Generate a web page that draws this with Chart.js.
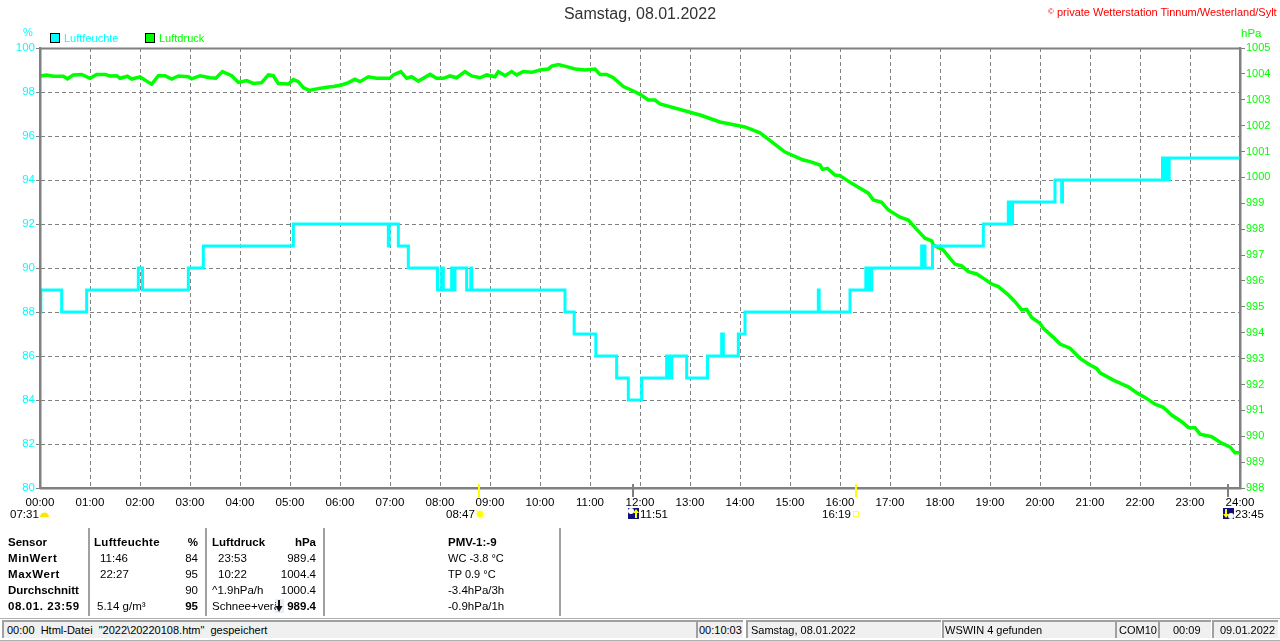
<!DOCTYPE html>
<html>
<head>
<meta charset="utf-8">
<title>Samstag, 08.01.2022</title>
<script src="https://cdn.jsdelivr.net/npm/chart.js@4"></script>
<style>
  html, body { margin: 0; padding: 0; background: #fff; }
  #page { position: relative; width: 1280px; height: 641px; overflow: hidden; font: 11.5px "Liberation Sans", Arial, sans-serif; color: #000; }
  canvas { position: absolute; left: 0; top: 0; }
  .t { position: absolute; white-space: nowrap; line-height: 14px; height: 14px; }
  .r { transform: translateX(-100%); }
  .b { font-weight: bold; }
  .w { letter-spacing: 0.6px; }
  .sep { position: absolute; top: 528px; width: 2px; height: 88px; background: #a0a0a0; }
  .swatch { position: absolute; top: 33px; width: 8px; height: 8px; border: 1px solid #000; }
  .panel { position: absolute; top: 620px; height: 16px; background: #f0f0f0; border-top: 2px solid #a0a0a0; border-left: 2px solid #a0a0a0; line-height: 17px; white-space: nowrap; overflow: hidden; font-size: 11px; }
</style>
</head>
<body>
<div id="page">
  <canvas id="chart" width="1280" height="641"></canvas>

  <div class="swatch" style="left:50px;background:#00ffff"></div>
  <div class="t" style="left:64px;top:31px;color:#00ffff;font-size:11px">Luftfeuchte</div>
  <div class="swatch" style="left:145px;background:#00ff00"></div>
  <div class="t" style="left:159px;top:31px;color:#00ff00;font-size:11px">Luftdruck</div>
  <div class="t" style="left:23px;top:25px;color:#00ffff;font-size:11px">%</div>
  <div class="t" style="left:1241px;top:26px;color:#00ff00;font-size:11.5px">hPa</div>
  <div class="t" style="left:1048px;top:5px;color:#ff0000;font-size:11px"><span style="font-size:8px;vertical-align:2px">©</span> private Wetterstation Tinnum/Westerland/Sylt</div>

  <div class="t" style="left:10px;top:507px">07:31</div>
  <div class="t" style="left:446px;top:507px">08:47</div>
  <div class="t" style="left:640px;top:507px">11:51</div>
  <div class="t" style="left:822px;top:507px">16:19</div>
  <div class="t" style="left:1235px;top:507px">23:45</div>

  <div class="sep" style="left:88px"></div>
  <div class="sep" style="left:205px"></div>
  <div class="sep" style="left:323px"></div>
  <div class="sep" style="left:559px"></div>

  <div class="t b" style="left:8px;top:535px">Sensor</div>
  <div class="t b w" style="left:8px;top:551px">MinWert</div>
  <div class="t b w" style="left:8px;top:567px">MaxWert</div>
  <div class="t b" style="left:8px;top:583px">Durchschnitt</div>
  <div class="t b w" style="left:8px;top:599px">08.01. 23:59</div>

  <div class="t b" style="left:94px;top:535px;letter-spacing:0.3px">Luftfeuchte</div>
  <div class="t b r" style="left:198px;top:535px">%</div>
  <div class="t" style="left:100px;top:551px">11:46</div>
  <div class="t r" style="left:198px;top:551px">84</div>
  <div class="t" style="left:100px;top:567px">22:27</div>
  <div class="t r" style="left:198px;top:567px">95</div>
  <div class="t r" style="left:198px;top:583px">90</div>
  <div class="t" style="left:97px;top:599px">5.14 g/m³</div>
  <div class="t b r" style="left:198px;top:599px">95</div>

  <div class="t b" style="left:212px;top:535px">Luftdruck</div>
  <div class="t b r" style="left:316px;top:535px">hPa</div>
  <div class="t" style="left:218px;top:551px">23:53</div>
  <div class="t r" style="left:316px;top:551px">989.4</div>
  <div class="t" style="left:218px;top:567px">10:22</div>
  <div class="t r" style="left:316px;top:567px">1004.4</div>
  <div class="t" style="left:212px;top:583px">^1.9hPa/h</div>
  <div class="t r" style="left:316px;top:583px">1000.4</div>
  <div class="t" style="left:212px;top:599px;width:64px;overflow:hidden">Schnee+verän</div>
  <div class="t b r" style="left:316px;top:599px">989.4</div>

  <div class="t b" style="left:448px;top:535px">PMV-1:-9</div>
  <div class="t" style="left:448px;top:551px;font-size:11px">WC -3.8 °C</div>
  <div class="t" style="left:448px;top:567px;font-size:11px">TP 0.9 °C</div>
  <div class="t" style="left:448px;top:583px">-3.4hPa/3h</div>
  <div class="t" style="left:448px;top:599px">-0.9hPa/1h</div>

  <div style="position:absolute;left:0;top:618px;width:1280px;height:1px;background:#b0b0b0"></div>
  <div style="position:absolute;left:0;top:640px;width:1280px;height:1px;background:#b0b0b0"></div>
  <div class="panel" style="left:2px;width:692px;padding-left:3px;white-space:pre">00:00  Html-Datei  "2022\20220108.htm"  gespeichert</div>
  <div class="panel" style="left:696px;width:44px;padding-left:1px">00:10:03</div>
  <div class="panel" style="left:746px;width:190px;padding-left:3px">Samstag, 08.01.2022</div>
  <div class="panel" style="left:942px;width:170px;padding-left:1px">WSWIN 4 gefunden</div>
  <div class="panel" style="left:1115px;width:40px;padding-left:2px">COM10</div>
  <div class="panel" style="left:1158px;width:38px;padding-left:13px">00:09</div>
  <div class="panel" style="left:1212px;width:58px;padding-left:6px">09.01.2022</div>
</div>

<script>
const hourLabels = ["00:00","01:00","02:00","03:00","04:00","05:00","06:00","07:00","08:00","09:00","10:00","11:00","12:00",
  "13:00","14:00","15:00","16:00","17:00","18:00","19:00","20:00","21:00","22:00","23:00","24:00"];

// Luftfeuchte: minute of the day where the reading changes, and the new reading
const humidityMinutes = [0,1,26,56,118,123,178,196,304,418,419,430,442,477,482,484,494,495,498,512,517,518,630,641,667,692,706,722,752,754,755,757,758,776,801,818,820,838,846,934,935,972,991,993,994,996,998,1058,1060,1061,1062,1071,1132,1162,1163,1164,1165,1167,1218,1226,1227,1347,1349,1350,1352,1355,1440];
const humidityValues = [88,89,88,89,90,89,90,91,92,91,92,91,90,89,90,89,90,89,90,89,90,89,88,87,86,85,84,85,86,85,86,85,86,85,86,87,86,87,88,89,88,89,90,89,90,89,90,91,90,91,90,91,92,93,92,93,92,93,94,93,94,95,94,95,94,95,95];

// Luftdruck: at its turning points
const pressureMinutes = [0,8,16,28,33,40,50,60,68,78,84,92,96,105,110,120,128,134,142,150,158,166,178,182,192,204,211,219,230,238,248,256,266,274,280,286,298,304,310,316,323,332,344,352,362,370,378,
  384,394,404,420,424,433,440,446,454,460,468,476,484,492,500,510,518,528,536,546,550,558,566,572,580,590,600,610,614,622,632,642,654,666,672,680,688,700,712,720,730,738,
  744,792,816,846,864,894,916,924,936,939,945,954,960,974,984,994,1000,1010,1018,1032,1042,1052,1062,1070,1072,1084,1092,1098,1106,1114,1124,1134,1142,1150,1162,1170,1178,1184,1190,1200,1204,1216,1224,1236,1248,1260,1268,1272,1288,1298,1306,1316,1326,1338,1348,1358,1370,1378,1386,1392,1406,1418,1428,1434,1440];
const pressureValues = [1003.92,1003.96,1003.91,1003.91,1003.81,1003.96,1003.98,1003.83,1003.98,1003.98,1003.92,1003.93,1003.83,1003.91,1003.80,1003.88,1003.72,1003.60,1003.93,1003.93,1003.80,1003.92,1003.89,1003.81,1003.93,1003.85,1003.83,1004.09,1003.93,1003.67,1003.74,1003.63,1003.66,1003.96,1003.93,1003.63,1003.61,1003.78,1003.70,1003.47,1003.36,1003.42,1003.48,1003.51,1003.57,1003.66,1003.79,
  1003.70,1003.89,1003.83,1003.83,1003.96,1004.09,1003.83,1003.89,1003.72,1003.83,1003.98,1003.83,1003.83,1003.92,1003.85,1004.09,1003.92,1003.85,1003.96,1003.89,1004.09,1003.93,1004.09,1003.96,1004.09,1004.06,1004.15,1004.19,1004.30,1004.36,1004.28,1004.19,1004.15,1004.19,1003.98,1003.98,1003.85,1003.51,1003.34,1003.21,1002.99,1002.99,
  1002.84,1002.41,1002.14,1001.95,1001.72,1000.98,1000.67,1000.61,1000.48,1000.31,1000.35,1000.09,1000.07,999.77,999.58,999.39,999.13,999.04,998.74,998.46,998.35,997.99,997.65,997.55,997.39,997.19,996.87,996.65,996.58,996.36,996.27,996.06,995.88,995.78,995.46,995.20,994.88,994.90,994.59,994.36,994.17,993.82,993.56,993.40,993.01,992.75,992.62,992.45,992.17,992.02,991.91,991.68,991.50,991.24,991.12,990.82,990.56,990.34,990.33,990.08,989.98,989.73,989.59,989.36,989.36];

// Sun and moon times marked on the time axis
const sunTickMinutes = [527, 979];
const moonTickMinutes = [711, 1425];

const gray = "#808080";

function drawMoonIcon(ctx, x, y, up) {
  ctx.fillStyle = "#10107a";
  ctx.fillRect(x, y, 11, 11);
  ctx.fillStyle = "#fff";
  ctx.beginPath();
  ctx.arc(x + (up ? 3 : 8), y + (up ? 3 : 8), 3, 0, Math.PI * 2);
  ctx.fill();
  ctx.fillStyle = "#ffff00";
  const ax = x + (up ? 8 : 3);
  const dir = up ? 1 : -1;
  const ay = up ? y + 4 : y + 7;
  ctx.beginPath();
  ctx.moveTo(ax, ay - dir * 3);
  ctx.lineTo(ax + 3, ay + dir);
  ctx.lineTo(ax + 1, ay + dir);
  ctx.lineTo(ax + 1, ay + dir * 6);
  ctx.lineTo(ax - 1, ay + dir * 6);
  ctx.lineTo(ax - 1, ay + dir);
  ctx.lineTo(ax - 3, ay + dir);
  ctx.closePath();
  ctx.fill();
}

// Frame round the plot, sun/moon ticks under the time axis and their icons
const framePlugin = {
  id: "frame",
  afterDraw(chart) {
    const { ctx, chartArea: a, scales } = chart;
    ctx.save();
    ctx.strokeStyle = gray;
    ctx.lineWidth = 2;
    ctx.strokeRect(a.left + 0.5, a.top + 0.5, a.right - a.left, a.bottom - a.top);

    ctx.fillStyle = "#ffff00";
    sunTickMinutes.forEach((m) => ctx.fillRect(Math.round(scales.x.getPixelForValue(m)) - 1, 484, 2, 13));
    ctx.fillStyle = gray;
    moonTickMinutes.forEach((m) => ctx.fillRect(Math.round(scales.x.getPixelForValue(m)) - 1, 484, 2, 13));

    // sunrise half sun
    ctx.fillStyle = "#ffe600";
    ctx.beginPath();
    ctx.arc(44.5, 517, 4.5, Math.PI, 0);
    ctx.fill();

    // noon sun with rays
    ctx.strokeStyle = "#ffff80";
    ctx.lineWidth = 1;
    for (let i = 0; i < 8; i++) {
      const an = (i * Math.PI) / 4;
      ctx.beginPath();
      ctx.moveTo(480 + Math.cos(an) * 3, 514 + Math.sin(an) * 3);
      ctx.lineTo(480 + Math.cos(an) * 5.5, 514 + Math.sin(an) * 5.5);
      ctx.stroke();
    }
    ctx.fillStyle = "#ffff00";
    ctx.beginPath();
    ctx.arc(480, 514, 3.2, 0, Math.PI * 2);
    ctx.fill();

    // sunset hollow square
    ctx.strokeStyle = "#ffff40";
    ctx.strokeRect(853.5, 511.5, 5, 5);

    drawMoonIcon(ctx, 628, 508, true);
    drawMoonIcon(ctx, 1223, 508, false);

    // tendency arrow in the table
    ctx.fillStyle = "#e8eef4";
    ctx.fillRect(275, 599, 9, 14);
    ctx.fillStyle = "#111";
    ctx.fillRect(278, 600, 2, 9);
    ctx.beginPath();
    ctx.moveTo(275.5, 606);
    ctx.lineTo(282.5, 606);
    ctx.lineTo(279, 612);
    ctx.closePath();
    ctx.fill();
    ctx.restore();
  },
};

const sansFamily = "'Liberation Sans', Arial, sans-serif";

new Chart(document.getElementById("chart"), {
  type: "line",
  data: {
    datasets: [
      {
        label: "Luftfeuchte",
        data: humidityMinutes.map((m, i) => ({ x: m, y: humidityValues[i] })),
        yAxisID: "y",
        borderColor: "#00ffff",
        borderWidth: 3,
        stepped: "before",
        pointRadius: 0,
        borderJoinStyle: "miter",
      },
      {
        label: "Luftdruck",
        data: pressureMinutes.map((m, i) => ({ x: m, y: pressureValues[i] })),
        yAxisID: "y1",
        borderColor: "#00ff00",
        borderWidth: 3.5,
        pointRadius: 0,
      },
    ],
  },
  options: {
    responsive: false,
    animation: false,
    events: [],
    layout: { padding: { bottom: 123 } },
    plugins: {
      legend: { display: false },
      tooltip: { enabled: false },
      title: {
        display: true,
        text: "Samstag, 08.01.2022",
        color: "#333",
        font: { family: sansFamily, size: 16, weight: "normal", lineHeight: 1.2 },
        padding: { top: 5, bottom: 23.8 },
      },
    },
    scales: {
      x: {
        type: "linear",
        min: 0,
        max: 1440,
        afterFit: (s) => { s.height = 30; },
        afterBuildTicks: (s) => { s.ticks = hourLabels.map((_, i) => ({ value: i * 60 })); },
        ticks: {
          color: "#000",
          font: { family: sansFamily, size: 11.5 },
          padding: 8,
          maxRotation: 0,
          autoSkip: false,
          callback: (v) => hourLabels[v / 60],
        },
        border: { color: gray, width: 2, dash: [4, 3] },
        grid: { color: gray, lineWidth: 1, drawTicks: false },
      },
      y: {
        position: "left",
        min: 80,
        max: 100,
        afterFit: (s) => { s.width = 40; },
        ticks: { stepSize: 2, color: "#00ffff", font: { family: sansFamily, size: 11.5 }, padding: 1 },
        border: { color: gray, width: 2, dash: [4, 3] },
        grid: { color: gray, lineWidth: 1, tickLength: 4, tickColor: gray },
      },
      y1: {
        position: "right",
        min: 988,
        max: 1005,
        afterFit: (s) => { s.width = 40; },
        ticks: { stepSize: 1, color: "#00ff00", font: { family: sansFamily, size: 11 }, padding: 1, callback: (v) => String(v) },
        border: { color: gray, width: 2 },
        grid: { drawOnChartArea: false, tickLength: 5, tickColor: gray },
      },
    },
  },
  plugins: [framePlugin],
});
</script>
</body>
</html>
